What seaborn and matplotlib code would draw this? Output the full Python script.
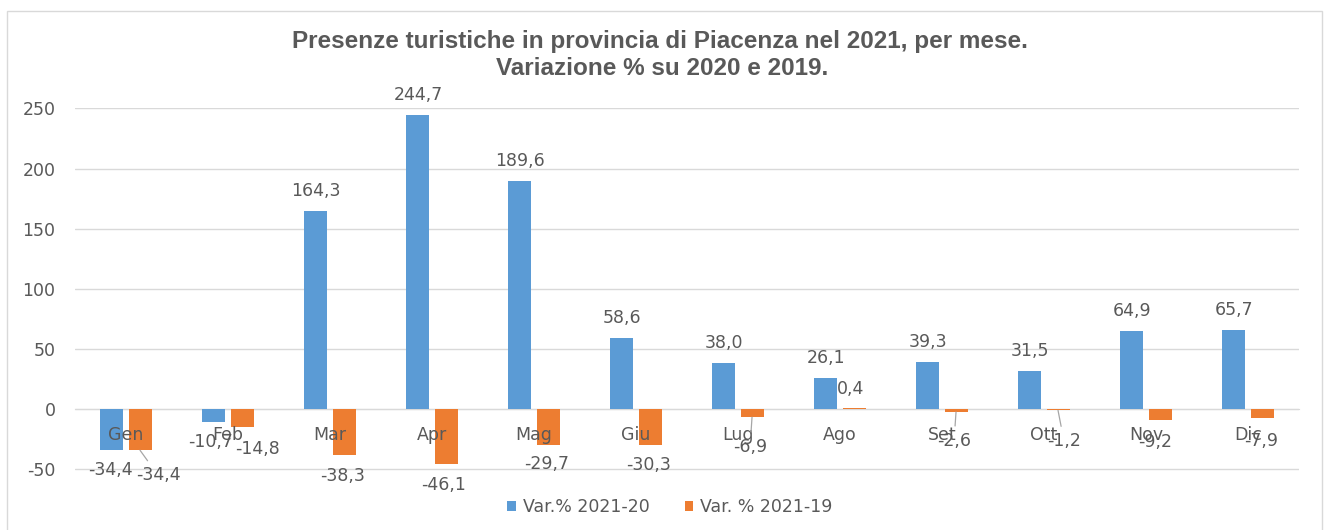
import pandas as pd
import matplotlib.pyplot as plt
import seaborn as sns
from matplotlib.patches import Rectangle

# monthly change of tourist nights, Piacenza 2021
mesi = ['Gen', 'Feb', 'Mar', 'Apr', 'Mag', 'Giu', 'Lug', 'Ago', 'Set', 'Ott', 'Nov', 'Dic']
var_2021_20 = [-34.4, -10.7, 164.3, 244.7, 189.6, 58.6, 38.0, 26.1, 39.3, 31.5, 64.9, 65.7]
var_2021_19 = [-34.4, -14.8, -38.3, -46.1, -29.7, -30.3, -6.9, 0.4, -2.6, -1.2, -9.2, -7.9]
serie = ['Var.% 2021-20', 'Var. % 2021-19']

df = pd.DataFrame({
    'mese': mesi * 2,
    'valore': var_2021_20 + var_2021_19,
    'serie': [serie[0]] * 12 + [serie[1]] * 12,
})

# label nudges in pixels (Excel labels were dragged by hand)
off_blue = [(-2, -20), (-3, -20)] + [(0, 20)] * 10
off_orange = [(18, -25), (15, -22), (-1, -21), (-2, -21), (-1, -19), (-1, -20),
              (-2, -30), (-3, 19), (-2, -29), (6, -31), (-5, -22), (-1, -23)]
leader = [0, 6, 8, 9]

grey = '#595959'
fs = 12.5
sns.set_style('white')
plt.rcParams['font.family'] = ['DejaVu Sans']
plt.rcParams['axes.unicode_minus'] = False

fig = plt.figure(figsize=(13.27, 5.3), dpi=100)
# 1.204 px per unit; bottom extended 1.5 units so the -50 gridline is not clipped
ax = fig.add_axes([75 / 1327, 59.2 / 530, 1224 / 1327, 362.8 / 530])

sns.barplot(data=df, x='mese', y='valore', hue='serie', order=mesi, hue_order=serie,
            palette=['#5B9BD5', '#ED7D31'], saturation=1, width=0.55, gap=0.18,
            linewidth=0, edgecolor='none', ax=ax, zorder=2)

ax.set_xlim(-0.5, 11.5)
ax.set_ylim(-51.5, 250.4)
ax.set_yticks(range(-50, 251, 50))
ax.yaxis.grid(True, color='#D9D9D9', lw=1)
ax.set_axisbelow(True)
ax.xaxis.set_zorder(5)
for s in ['top', 'right', 'left']:
    ax.spines[s].set_visible(False)
ax.spines['bottom'].set_position(('data', 0))
ax.spines['bottom'].set_color('#D9D9D9')
ax.spines['bottom'].set_zorder(1)
ax.tick_params(axis='x', length=0, pad=12, labelsize=fs, labelcolor=grey)
ax.tick_params(axis='y', length=0, pad=14, labelsize=fs, labelcolor=grey)
ax.set_xlabel('')
ax.set_ylabel('')

# data labels
for k, (cont, offs, vals) in enumerate([(ax.containers[0], off_blue, var_2021_20),
                                        (ax.containers[1], off_orange, var_2021_19)]):
    for i, (bar, v) in enumerate(zip(cont.patches, vals)):
        x = bar.get_x() + bar.get_width() / 2
        txt = f'{v:.1f}'.replace('.', ',')
        kw = {}
        if k == 1 and i in leader:
            kw['arrowprops'] = dict(arrowstyle='-', color='#A6A6A6', lw=0.9,
                                    shrinkA=2, shrinkB=0)
        ax.annotate(txt, (x, v), xytext=offs[i], textcoords='offset pixels',
                    ha='center', va='center', fontsize=fs, color=grey,
                    annotation_clip=False, zorder=6, **kw)

handles, labels = ax.get_legend_handles_labels()
ax.get_legend().remove()
fig.legend(handles, labels, loc='center', bbox_to_anchor=(670 / 1327, 1 - 507 / 530),
           ncol=2, frameon=False, fontsize=fs, labelcolor=grey,
           handlelength=0.5, handleheight=0.5, handletextpad=0.4, columnspacing=2.0)

title_kw = dict(ha='center', va='baseline', fontsize=17.5, fontweight='bold',
                color=grey, family='Liberation Sans')
fig.text(660 / 1327, 1 - 48 / 530, 'Presenze turistiche in provincia di Piacenza nel 2021, per mese.', **title_kw)
fig.text(662 / 1327, 1 - 75 / 530, 'Variazione % su 2020 e 2019.', **title_kw)

# chart frame
fig.patches.append(Rectangle((7 / 1327, -0.05), 1315 / 1327, 1.05 - 11 / 530,
                             transform=fig.transFigure, fill=False, ec='#D9D9D9', lw=1))

fig.savefig('out.png', dpi=100)
